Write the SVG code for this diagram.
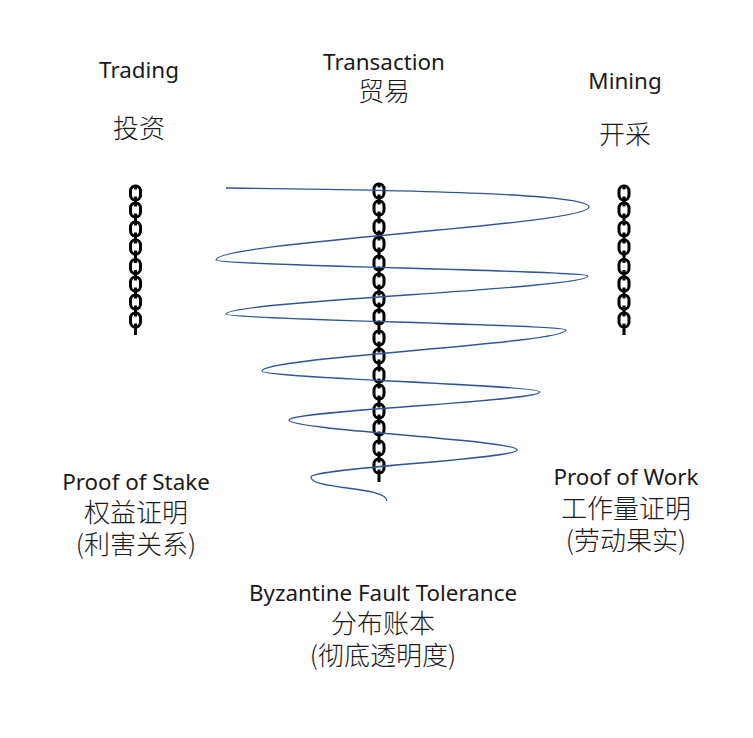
<svg xmlns="http://www.w3.org/2000/svg" width="753" height="738" viewBox="0 0 753 738">
<style>
text{font-family:"Noto Sans","Noto Sans CJK SC",sans-serif;font-size:22.4px;fill:#1a1a1a;text-anchor:middle}
.cjk{font-family:"Noto Sans CJK SC","Noto Sans",sans-serif;font-weight:300;font-size:26px}
.stem{stroke:#000;stroke-width:3;fill:none}
.link{stroke:#000;stroke-width:3;fill:#fff}
.spiral{stroke:#2f5597;stroke-width:1.3;fill:none}
</style>
<defs>
<g id="l"><rect class="link" x="-5" y="-7" width="10" height="14" rx="4.6" ry="5"/><path class="stem" d="M0,-7V-3.500M0,3.500V7"/></g>
</defs>
<rect width="753" height="738" fill="#fff"/>
<g id="chain-left">
<path class="stem" d="M135.500,188V335"/>
<use href="#l" x="135.500" y="193"/><use href="#l" x="135.500" y="210"/><use href="#l" x="135.500" y="229"/><use href="#l" x="135.500" y="247"/><use href="#l" x="135.500" y="266.500"/><use href="#l" x="135.500" y="284"/><use href="#l" x="135.500" y="302"/><use href="#l" x="135.500" y="320"/>
</g>
<g id="chain-center">
<path class="stem" d="M379,186V482"/>
<use href="#l" x="379" y="191"/><use href="#l" x="379" y="208"/><use href="#l" x="379" y="227"/><use href="#l" x="379" y="244"/><use href="#l" x="379" y="263"/><use href="#l" x="379" y="281"/><use href="#l" x="379" y="299"/><use href="#l" x="379" y="317"/><use href="#l" x="379" y="338"/><use href="#l" x="379" y="356"/><use href="#l" x="379" y="375"/><use href="#l" x="379" y="392"/><use href="#l" x="379" y="411"/><use href="#l" x="379" y="428"/><use href="#l" x="379" y="448"/><use href="#l" x="379" y="466"/>
</g>
<g id="chain-right">
<path class="stem" d="M624,188V335"/>
<use href="#l" x="624" y="193"/><use href="#l" x="624" y="210"/><use href="#l" x="624" y="229"/><use href="#l" x="624" y="247"/><use href="#l" x="624" y="266.500"/><use href="#l" x="624" y="284"/><use href="#l" x="624" y="302"/><use href="#l" x="624" y="320"/>
</g>
<g id="connectors">
<path class="spiral" d="M226,188C420,190 589,194 589,207C589,225 216,242 216,260C216,265.300 588,270.700 588,276C588,288.700 226,301.300 226,314C226,319.300 566,324.700 566,330C566,343.700 262,357.300 262,371C262,378 540,385 540,392C540,401.300 289,410.700 289,420C289,430 517,440 517,450C517,459 311,468 311,477C311,490 387,486 387,501"/>
</g>
<g id="label-trading"><text x="139" y="78">Trading</text><text class="cjk" x="139" y="138">投资</text></g>
<g id="label-transaction"><text x="384" y="70">Transaction</text><text class="cjk" x="384" y="101">贸易</text></g>
<g id="label-mining"><text x="625" y="89">Mining</text><text class="cjk" x="625" y="144">开采</text></g>
<g id="label-pos"><text x="136" y="490">Proof of Stake</text><text class="cjk" x="136" y="522">权益证明</text><text class="cjk" x="136" y="554">(利害关系)</text></g>
<g id="label-pow"><text x="626" y="485">Proof of Work</text><text class="cjk" x="626" y="518">工作量证明</text><text class="cjk" x="626" y="550">(劳动果实)</text></g>
<g id="label-bft"><text x="383" y="601">Byzantine Fault Tolerance</text><text class="cjk" x="383" y="633">分布账本</text><text class="cjk" x="383" y="665">(彻底透明度)</text></g>
</svg>
